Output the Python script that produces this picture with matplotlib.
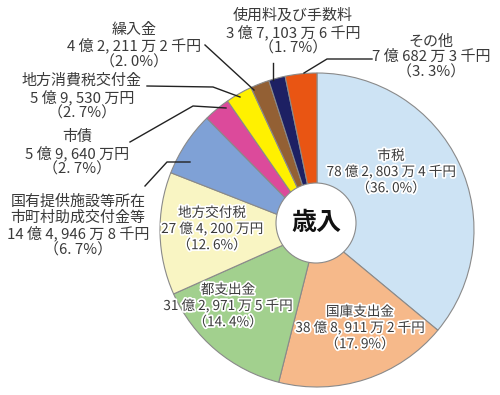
import matplotlib
matplotlib.use('Agg')
import matplotlib.pyplot as plt
import matplotlib.patheffects as pe
from matplotlib.patches import Circle

# 歳入の内訳（単位：千円）
categories = ['市税', '国庫支出金', '都支出金', '地方交付税',
              '国有提供施設等所在\n市町村助成交付金等', '市債', '地方消費税交付金',
              '繰入金', '使用料及び手数料', 'その他']
amounts = [7828034, 3889112, 3129715, 2742000, 1449468,
           596400, 595300, 422112, 371036, 706823]
amount_labels = ['78 億 2, 803 万 4 千円', '38 億 8, 911 万 2 千円', '31 億 2, 971 万 5 千円',
                 '27 億 4, 200 万円', '14 億 4, 946 万 8 千円', '5 億 9, 640 万円',
                 '5 億 9, 530 万円', '4 億 2, 211 万 2 千円', '3 億 7, 103 万 6 千円',
                 '7 億 682 万 3 千円']
percents = ['36. 0%', '17. 9%', '14. 4%', '12. 6%', '6. 7%', '2. 7%', '2. 7%', '2. 0%', '1. 7%', '3. 3%']
colors = ['#cde3f4', '#f6b98a', '#a2d08e', '#f9f5c3', '#7fa1d6',
          '#dc4a9b', '#fff100', '#936034', '#1d2063', '#e95513']

H = 395  # 画像の高さ（上からのピクセル座標を使う）

plt.rcParams['font.family'] = ['Noto Sans CJK JP', 'DejaVu Sans']

fig = plt.figure(figsize=(5, 3.95), dpi=100)
ax = fig.add_axes([0, 0, 1, 1])

ax.pie(amounts, colors=colors, startangle=90, counterclock=False,
       center=(317, H - 230), radius=157,
       wedgeprops=dict(edgecolor='#8a8a8a', linewidth=0.8))
ax.add_patch(Circle((316, H - 223), 40, facecolor='white', edgecolor='#8a8a8a', lw=0.8, zorder=3))
ax.text(316, H - 223, '歳入', fontsize=18, fontweight='bold', ha='center', va='center',
        color='#111111', zorder=4)

ax.set_xlim(0, 500)
ax.set_ylim(0, H)
ax.set_aspect('equal')
ax.axis('off')

# ラベル位置（中心）と引出線
label_pos = [(391, 172), (360, 328), (228, 306), (212, 229), (78, 226),
             (77, 153), (82, 97), (134, 46), (293, 32), (431, 57)]
inside = [True, True, True, True, False, False, False, False, False, False]
leaders = {
    4: [(145, 186), (167, 162), (190, 162)],
    5: [(130, 142), (193, 106), (226, 108)],
    6: [(147, 86), (213, 87), (240, 97)],
    7: [(205, 45), (254, 90)],
    8: [(273, 63), (273, 80)],
    9: [(372, 59), (327, 59), (304, 73)],
}

for i, (cat, amt, pct) in enumerate(zip(categories, amount_labels, percents)):
    x, y = label_pos[i]
    s = f'{cat}\n{amt}\n（{pct}）'
    if inside[i]:
        ax.text(x, H - y, s, fontsize=9.8, ha='center', va='center', color='#3a3a3a',
                linespacing=1.2, zorder=5,
                path_effects=[pe.withStroke(linewidth=2.5, foreground='white')])
    else:
        ax.text(x, H - y, s, fontsize=10.8, ha='center', va='center', color='#3a3a3a',
                linespacing=1.12, zorder=5)

for i, pts in leaders.items():
    xs = [p[0] for p in pts]
    ys = [H - p[1] for p in pts]
    ax.plot(xs, ys, color='#222222', lw=1.0, zorder=6, clip_on=False)

fig.savefig('out.png', dpi=100)
